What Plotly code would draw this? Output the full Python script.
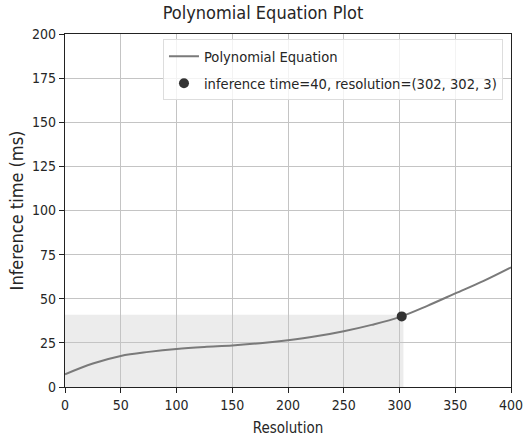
import plotly.graph_objects as go

# Data
resolution = [0, 25, 50, 75, 100, 125, 150, 175, 200, 225, 250, 275, 300, 325, 350, 375, 400]
inference_ms = [7.2, 13.3, 17.6, 19.9, 21.6, 22.7, 23.5, 24.8, 26.5, 28.7, 31.6, 35.2, 39.6, 46.0, 53.0, 60.0, 67.8]
point_res = [302]
point_time = [40]
point_label = "inference time=40, resolution=(302, 302, 3)"
x_ticks = [0, 50, 100, 150, 200, 250, 300, 350, 400]
y_ticks = [0, 25, 50, 75, 100, 125, 150, 175, 200]

FONT = "DejaVu Sans Condensed, DejaVu Sans"
TXT = "#262626"

fig = go.Figure()
fig.add_trace(go.Scatter(
    x=resolution, y=inference_ms, mode="lines", name="Polynomial Equation",
    legendgroup="a",
    line=dict(color="#7a7a7a", width=2, shape="spline", smoothing=1.0),
))
fig.add_trace(go.Scatter(
    x=point_res, y=point_time, mode="markers", name=point_label,
    legendgroup="b",
    marker=dict(color="#333333", size=10),
))

fig.add_shape(type="rect", xref="x", yref="y",
              x0=0, x1=point_res[0] + 1.5, y0=0, y1=point_time[0] + 1,
              fillcolor="#ececec", line=dict(width=0), layer="below")

axis_common = dict(
    showgrid=True, gridcolor="#c4c4c4", gridwidth=1,
    showline=True, linecolor="#222222", linewidth=1.2, mirror=True,
    ticks="outside", ticklen=5, tickcolor="#222222",
    zeroline=False, tickfont=dict(family=FONT, size=14, color=TXT),
    automargin=False,
)

fig.update_layout(
    width=526, height=438,
    margin=dict(l=65, r=15, t=34, b=51),
    paper_bgcolor="white", plot_bgcolor="white",
    font=dict(family=FONT, size=14, color=TXT),
    title=dict(text="Polynomial Equation Plot", x=0.5, xanchor="center",
               y=0.985, yanchor="top", font=dict(family=FONT, size=18, color=TXT)),
    xaxis=dict(range=[0, 400], tickvals=x_ticks,
               title=dict(text="Resolution", font=dict(family=FONT, size=15), standoff=10),
               **axis_common),
    yaxis=dict(range=[0, 200], tickvals=y_ticks,
               title=dict(text="Inference time (ms)", font=dict(family=FONT, size=18), standoff=3),
               **axis_common),
    legend=dict(x=0.982, xanchor="right", y=0.985, yanchor="top",
                traceorder="grouped", tracegroupgap=5,
                bgcolor="rgba(255,255,255,0.8)", bordercolor="#dddddd", borderwidth=1,
                font=dict(family=FONT, size=14.6, color=TXT)),
)

fig.write_html("out.html", config={"displayModeBar": False},
               post_script="document.body.style.margin='0';document.body.style.padding='0';")
